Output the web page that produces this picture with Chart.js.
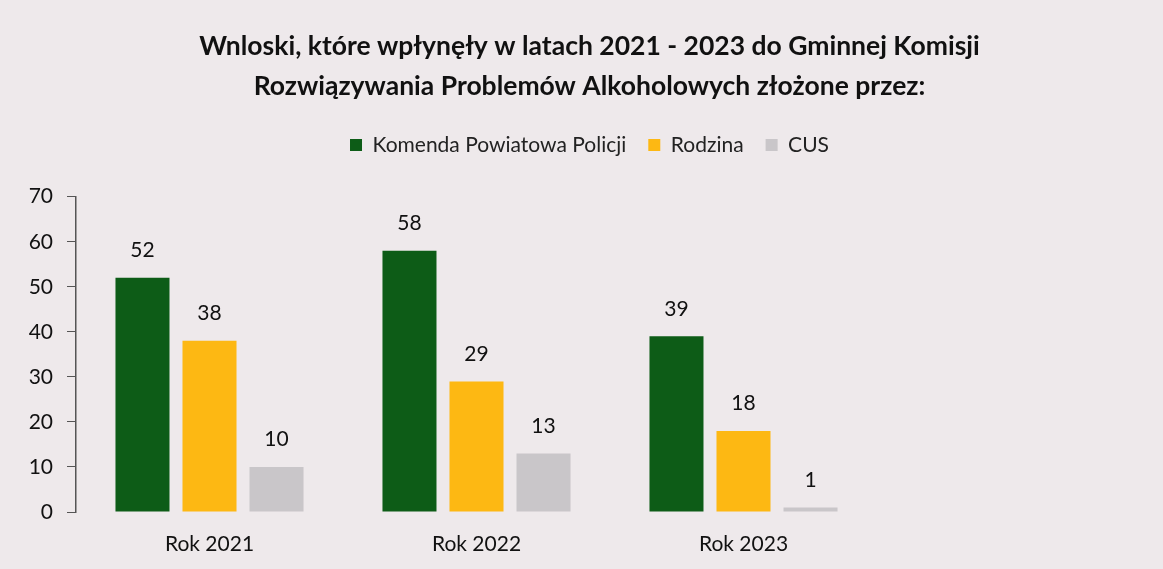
<!DOCTYPE html>
<html><head><meta charset="utf-8">
<script src="https://cdn.jsdelivr.net/npm/chart.js@4"></script>
<style>
html,body{margin:0;padding:0;background:#eee9eb;}
#wrap{width:1163px;height:569px;position:relative;}
</style></head>
<body><div id="wrap"><canvas id="c" width="1163" height="569"></canvas></div>
<script>
const categories = ["Rok 2021", "Rok 2022", "Rok 2023"];
const seriesNames = ["Komenda Powiatowa Policji", "Rodzina", "CUS"];
const policja = [52, 58, 39];
const rodzina = [38, 29, 18];
const cus = [10, 13, 1];
const yTicks = [0, 10, 20, 30, 40, 50, 60, 70];
const titleLines = ["Wnloski, które wpłynęły w latach 2021 - 2023 do Gminnej Komisji", "Rozwiązywania Problemów Alkoholowych złożone przez:"];

const FONT = "Lato, 'Open Sans', sans-serif";
const labelPlugin = {
  id: 'vlabels',
  afterDatasetsDraw(chart) {
    const ctx = chart.ctx;
    ctx.save();
    ctx.font = "21px " + FONT;
    ctx.fillStyle = "#111";
    ctx.textAlign = "center";
    ctx.textBaseline = "bottom";
    chart.data.datasets.forEach((ds, i) => {
      chart.getDatasetMeta(i).data.forEach((bar, j) => {
        ctx.fillText(String(ds.data[j]), bar.x, bar.y - 17);
      });
    });
    ctx.restore();
  }
};

new Chart(document.getElementById('c'), {
  type: 'bar',
  data: {
    labels: categories,
    datasets: [
      {label: seriesNames[0], data: policja, backgroundColor: "#0d5c17"},
      {label: seriesNames[1], data: rodzina, backgroundColor: "#fdb813"},
      {label: seriesNames[2], data: cus, backgroundColor: "#c9c6c9"}
    ]
  },
  options: {
    responsive: false,
    animation: false,
    layout: {padding: {left: 16, right: 0, top: 27, bottom: 0}},
    datasets: {bar: {categoryPercentage: 0.753, barPercentage: 0.806}},
    plugins: {
      title: {display: true, text: titleLines, color: "#111",
        font: {family: FONT, size: 26.5, weight: 'bold', lineHeight: 1.5},
        padding: {top: 0, bottom: 6}},
      subtitle: {display: true, text: ' ', weight: 500, font: {size: 1}, padding: 15},
      legend: {position: 'top', align: 'center',
        labels: {boxWidth: 12, boxHeight: 12, color: "#222", padding: 22,
          font: {family: FONT, size: 21}}},
      tooltip: {enabled: false}
    },
    scales: {
      x: {
        afterFit(scale) { scale.height = 57; },
        grid: {display: false, drawTicks: false},
        border: {display: false},
        ticks: {color: "#111", font: {family: FONT, size: 21}, padding: 20}
      },
      y: {
        min: 0, max: 70,
        afterFit(scale) { scale.width = 60; },
        afterBuildTicks(scale) { scale.ticks = yTicks.map(v => ({value: v})); },
        grid: {display: true, drawOnChartArea: false, drawTicks: true, tickLength: 9, color: "#555"},
        border: {display: true, color: "#555", width: 1.5},
        ticks: {color: "#111", font: {family: FONT, size: 21}, padding: 14}
      },
      spacer: {
        position: 'right', display: true,
        afterFit(scale) { scale.width = 286; },
        grid: {display: false, drawTicks: false},
        border: {display: false},
        ticks: {display: false}
      }
    }
  },
  plugins: [labelPlugin]
});
</script></body></html>
